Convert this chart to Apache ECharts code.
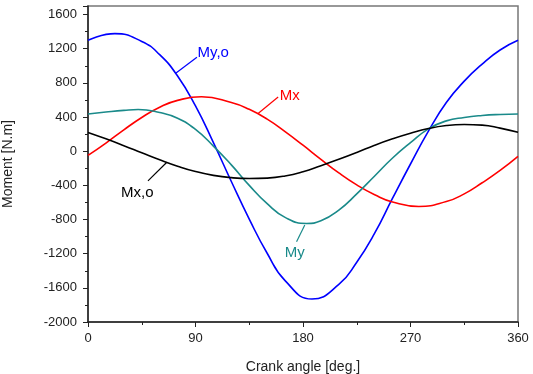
<!DOCTYPE html>
<html>
<head>
<meta charset="utf-8">
<script src="https://cdn.jsdelivr.net/npm/echarts@6/dist/echarts.min.js"></script>
<style>
  html, body { margin: 0; padding: 0; background: #fff; }
  #main { width: 533px; height: 374px; }
</style>
</head>
<body>
<div id="main"></div>
<script>
// crank angle samples (deg.) and moments (N.m);
// each curve is sampled at its own extrema so the smoothing keeps the peaks
var myoAngles = [0, 22.5, 45, 60, 75, 90, 105, 120, 135, 150, 165, 187.5,
                 210, 225, 240, 255, 270, 285, 300, 315, 330, 345, 360];
var myo       = [1298, 1376, 1285, 1130, 880, 530, 100, -355, -795, -1195, -1515, -1731,
                 -1560, -1300, -960, -550, -150, 235, 570, 820, 1020, 1185, 1298];

var mxAngles  = [0, 15, 30, 45, 60, 75, 95, 120, 135, 150, 165, 180,
                 195, 210, 225, 240, 255, 277, 300, 315, 330, 345, 360];
var mx        = [-50, 95, 250, 395, 515, 595, 637, 570, 490, 375, 230, 70,
                 -95, -255, -395, -510, -595, -647, -590, -500, -370, -225, -60];

var myAngles  = [0, 15, 30, 42, 60, 75, 90, 105, 120, 135, 150, 165, 183,
                 195, 210, 225, 240, 255, 270, 285, 300, 315, 330, 345, 360];
var my        = [435, 458, 478, 488, 452, 385, 255, 60, -160, -400, -615, -775, -846,
                 -815, -690, -500, -290, -80, 100, 262, 355, 395, 418, 430, 436];

var mxoAngles = [0, 15, 30, 45, 60, 75, 90, 105, 120, 135, 150, 165, 180,
                 195, 210, 225, 240, 255, 270, 285, 300, 315, 330, 345, 360];
var mxo       = [220, 145, 65, -18, -100, -175, -238, -283, -310, -320, -315, -290, -240,
                 -170, -95, -15, 70, 145, 210, 265, 300, 312, 305, 270, 222];

// curve labels: text, leader line [from, to] and text anchor, in data units
var labelNames  = ['My,o', 'Mx', 'Mx,o', 'My'];
var labelColors = ['#0000ff', '#ff0000', '#000000', '#1a8a8a'];
var leaderFrom  = [[73.7, 916], [142.4, 441], [66, -130], [181.5, -865]];
var leaderTo    = [[91.2, 1100], [159.2, 635], [50.2, -347], [174.6, -1061]];
var textAt      = [[91.7, 1146], [160.6, 643], [27.6, -491], [164.8, -1193]];

function pairs(xs, vals) {
	return xs.map(function (a, i) { return [a, vals[i]]; });
}

function curve(name, xs, vals, color) {
	return {
		name: name,
		type: 'line',
		data: pairs(xs, vals),
		smooth: 0.5,
		symbol: 'none',
		lineStyle: { color: color, width: 1.6 },
		z: 3
	};
}

var chart = echarts.init(document.getElementById('main'));

var axisFont = { fontFamily: 'Liberation Sans', fontSize: 13, color: '#222' };

var option = {
	animation: false,
	backgroundColor: '#fff',
	grid: {
		left: 88, top: 6, right: 15, bottom: 52,
		outerBoundsMode: 'none',
		containLabel: false,
		show: true, borderColor: '#777', borderWidth: 1.5
	},
	xAxis: {
		type: 'value',
		min: 0, max: 360, interval: 90,
		name: 'Crank angle [deg.]',
		nameLocation: 'middle',
		nameGap: 38,
		nameTextStyle: { fontFamily: 'Liberation Sans', fontSize: 14, color: '#222' },
		axisLine: { show: true, onZero: false, lineStyle: { color: '#222', width: 1.5 } },
		axisTick: { show: true, inside: false, length: 5, lineStyle: { color: '#222' } },
		minorTick: { show: true, splitNumber: 2, length: 3, lineStyle: { color: '#222' } },
		splitLine: { show: false },
		axisLabel: Object.assign({ margin: 10 }, axisFont)
	},
	yAxis: {
		type: 'value',
		min: -2000, max: 1700, interval: 400,
		name: 'Moment [N.m]',
		nameLocation: 'middle',
		nameGap: 73,
		nameTextStyle: { fontFamily: 'Liberation Sans', fontSize: 14, color: '#222' },
		axisLine: { show: true, onZero: false, lineStyle: { color: '#222', width: 1.5 } },
		axisTick: { show: true, inside: false, length: 5, lineStyle: { color: '#222' } },
		minorTick: { show: true, splitNumber: 2, length: 3, lineStyle: { color: '#222' } },
		splitLine: { show: false },
		axisLabel: Object.assign({
			margin: 11,
			formatter: function (v) { return v > 1600 ? '' : String(v); }
		}, axisFont)
	},
	series: [
		curve('My,o', myoAngles, myo, '#0000ff'),
		curve('Mx', mxAngles, mx, '#ff0000'),
		curve('My', myAngles, my, '#1a8a8a'),
		curve('Mx,o', mxoAngles, mxo, '#000000')
	]
};

chart.setOption(option);

// leader lines and curve names
var graphics = [];
labelNames.forEach(function (name, i) {
	var p1 = chart.convertToPixel({ gridIndex: 0 }, leaderFrom[i]);
	var p2 = chart.convertToPixel({ gridIndex: 0 }, leaderTo[i]);
	var pt = chart.convertToPixel({ gridIndex: 0 }, textAt[i]);
	graphics.push({
		type: 'line',
		shape: { x1: p1[0], y1: p1[1], x2: p2[0], y2: p2[1] },
		style: { stroke: labelColors[i], lineWidth: 1.2 },
		z: 10
	});
	graphics.push({
		type: 'text',
		x: pt[0], y: pt[1],
		style: {
			text: name,
			fill: labelColors[i],
			font: '15px "Liberation Sans"',
			align: 'left',
			verticalAlign: 'middle'
		},
		z: 10
	});
});
chart.setOption({ graphic: graphics });
</script>
</body>
</html>
